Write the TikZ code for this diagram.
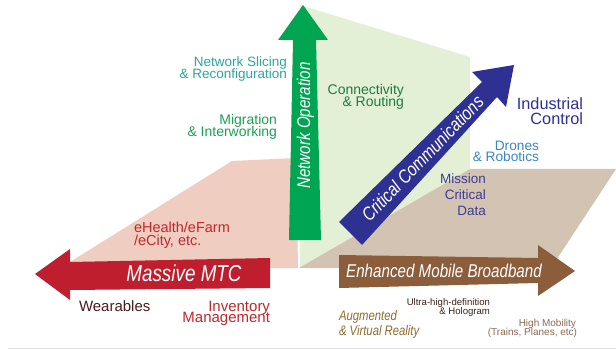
\documentclass[tikz,border=0pt]{standalone}
\usepackage{fontspec}
\setmainfont{Liberation Sans}
\newfontfamily\condit[FakeStretch=0.82]{Liberation Sans Italic}
\newcommand\fsz[1]{\fontsize{#1}{#1}\selectfont}
\definecolor{pinkplane}{HTML}{EFCDC0}
\definecolor{greenplane}{HTML}{E3F0D6}
\definecolor{tanplane}{HTML}{D3C3B3}
\definecolor{mtcred}{HTML}{BE1E2D}
\definecolor{opgreen}{HTML}{00A551}
\definecolor{ccblue}{HTML}{2E3192}
\definecolor{embbrown}{HTML}{8B5D3B}
\definecolor{tealtxt}{HTML}{2AA79B}
\definecolor{migtxt}{HTML}{1BA14F}
\definecolor{contxt}{HTML}{1E7B40}
\definecolor{navytxt}{HTML}{2E3192}
\definecolor{misstxt}{HTML}{3A3D94}
\definecolor{dronetxt}{HTML}{3B86C6}
\definecolor{redtxt}{HTML}{C1272D}
\definecolor{maroontxt}{HTML}{4B1C1E}
\definecolor{darktxt}{HTML}{3C2415}
\definecolor{mobtxt}{HTML}{8B6A55}
\definecolor{augtxt}{HTML}{8F6C2D}
\tikzset{
  lbl/.style={inner sep=0pt, outer sep=0pt},
  rlbl/.style={lbl, anchor=base east},
  llbl/.style={lbl, anchor=base west},
  arrowtxt/.style={lbl, anchor=base, text=white},
}
\begin{document}
\begin{tikzpicture}[x=1pt,y=-1pt]
\useasboundingbox (0,0) rectangle (616,350);
\fill[white] (0,0) rectangle (616,350);
\draw[black!12, line width=1.2pt] (8,348.5) -- (616,348.5);
% planes
\fill[pinkplane] (70,262) -- (232,161) -- (296,158) -- (298,268) -- (70,268) -- cycle;
\fill[greenplane] (300,268) -- (300,5) -- (470,57) -- (470,169) -- cycle;
\fill[tanplane] (299,268) -- (470,169) -- (616,169) -- (551,268) -- cycle;
% arrows
\fill[opgreen] (303,5) -- (328,40) -- (316,40) -- (321,240) -- (289,240) -- (293,40) -- (278,40) -- cycle;
\fill[ccblue] (339,222) -- (362,245) -- (497,97) -- (506,107) -- (514,65) -- (472,72) -- (482,82) -- cycle;
\fill[mtcred] (35,274) -- (70,249) -- (70,262) -- (270,258) -- (270,288) -- (70,290) -- (70,300) -- cycle;
\fill[embbrown] (339,255) -- (538,258) -- (538,245) -- (575,271) -- (538,296) -- (538,283) -- (339,288) -- cycle;
% arrow labels
\node[arrowtxt, font=\condit\fsz{23}] (mtc) at (184,281) {Massive MTC};
\node[arrowtxt, font=\condit\fsz{18.5}] (embb) at (444,277) {Enhanced Mobile Broadband};
\node[arrowtxt, font=\condit\fsz{18.5}, rotate=90] (netop) at (310,125.5) {Network Operation};
\node[arrowtxt, font=\condit\fsz{18.8}, rotate=46] (crit) at (427.3,163.1) {Critical Communications};
% labels
\node[rlbl, text=tealtxt, font=\fsz{13.5}] (ns1) at (287,67) {Network Slicing};
\node[rlbl, text=tealtxt, font=\fsz{13.5}] (ns2) at (287,78.5) {\& Reconfiguration};
\node[rlbl, text=migtxt, font=\fsz{14}] (mi1) at (277,125) {Migration};
\node[rlbl, text=migtxt, font=\fsz{14}] (mi2) at (277,137) {\& Interworking};
\node[rlbl, text=contxt, font=\fsz{14}] (co1) at (404,95) {Connectivity};
\node[rlbl, text=contxt, font=\fsz{14}] (co2) at (404,107) {\& Routing};
\node[rlbl, text=navytxt, font=\fsz{16.3}] (ic1) at (583,110) {Industrial};
\node[rlbl, text=navytxt, font=\fsz{16.3}] (ic2) at (583,125) {Control};
\node[rlbl, text=dronetxt, font=\fsz{13.7}] (dr1) at (539,151) {Drones};
\node[rlbl, text=dronetxt, font=\fsz{13.7}] (dr2) at (539,162) {\& Robotics};
\node[rlbl, text=misstxt, font=\fsz{13.5}] (mc1) at (486,183) {Mission};
\node[rlbl, text=misstxt, font=\fsz{13.5}] (mc2) at (486,199) {Critical};
\node[rlbl, text=misstxt, font=\fsz{13.5}] (mc3) at (486,215) {Data};
\node[llbl, text=redtxt, font=\fsz{14.5}] (eh1) at (134,233) {eHealth/eFarm};
\node[llbl, text=redtxt, font=\fsz{14.5}] (eh2) at (134,245) {/eCity, etc.};
\node[llbl, text=maroontxt, font=\fsz{15}] (wear) at (79,311) {Wearables};
\node[rlbl, text=redtxt, font=\fsz{15}] (inv1) at (270,311) {Inventory};
\node[rlbl, text=redtxt, font=\fsz{15}] (inv2) at (270,322) {Management};
\node[rlbl, text=darktxt, font=\fsz{9.6}] (uh1) at (490,305) {Ultra-high-definition};
\node[rlbl, text=darktxt, font=\fsz{9.6}] (uh2) at (490,314) {\& Hologram};
\node[rlbl, text=mobtxt, font=\fsz{10}] (hm1) at (576,326) {High Mobility};
\node[rlbl, text=mobtxt, font=\fsz{10}] (hm2) at (577,335) {(Trains, Planes, etc)};
\node[llbl, text=augtxt, font=\condit\fsz{13.8}] (ar1) at (339,320) {Augmented};
\node[llbl, text=augtxt, font=\condit\fsz{13.8}] (ar2) at (339,335) {\& Virtual Reality};
\end{tikzpicture}
\end{document}
